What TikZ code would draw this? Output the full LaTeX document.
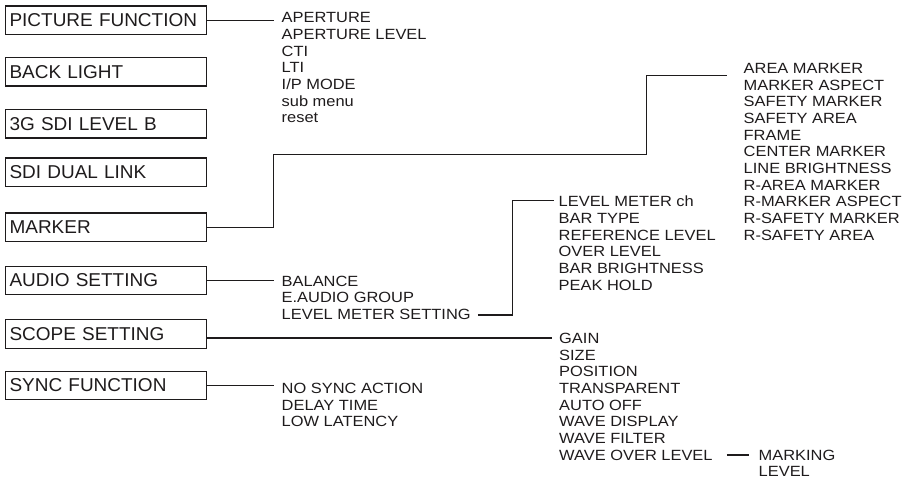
\documentclass[tikz,border=0pt]{standalone}
\usepackage{fontspec}
\setmainfont{Liberation Sans}
\newfontfamily\boxfont{Liberation Sans}[FakeStretch=1.02]
\newfontfamily\listfont{Liberation Sans}[FakeStretch=1.11]
\definecolor{ink}{RGB}{30,27,28}
\begin{document}
\begin{tikzpicture}[x=1pt,y=-1pt,
  menubox/.style={draw=ink, line width=1.1pt, anchor=north west, minimum width=201pt,
    minimum height=28.5pt, inner xsep=4pt, inner ysep=0pt, text width=193pt, align=left,
    text height=13.3pt, text depth=0pt, font=\boxfont\fontsize{18.6}{20}\selectfont, text=ink},
  itemlist/.style={anchor=base west, inner sep=0pt, align=left,
    font=\listfont\fontsize{14.8}{16.7}\selectfont, text=ink},
  link/.style={draw=ink, line width=1.1pt}]
\useasboundingbox (0,0) rectangle (902,481);

% main menu boxes
\node[menubox] (pf) at (5,5.5) {PICTURE FUNCTION};
\node[menubox] (bl) at (5,57) {BACK LIGHT};
\node[menubox] (sdib) at (5,109) {3G SDI LEVEL B};
\node[menubox] (dual) at (5,157.5) {SDI DUAL LINK};
\node[menubox] (mk) at (5,212.5) {MARKER};
\node[menubox] (au) at (5,265.5) {AUDIO SETTING};
\node[menubox] (sc) at (5,319) {SCOPE SETTING};
\node[menubox] (sy) at (5,370.5) {SYNC FUNCTION};

% sub menu lists (anchored at the baseline of their last line)
\node[itemlist] (pfl) at (281.5,122.9) {APERTURE\\APERTURE LEVEL\\CTI\\LTI\\I/P MODE\\sub menu\\reset};
\node[itemlist] (mkl) at (743.5,240.3) {AREA MARKER\\MARKER ASPECT\\SAFETY MARKER\\SAFETY AREA\\FRAME\\CENTER MARKER\\LINE BRIGHTNESS\\R-AREA MARKER\\R-MARKER ASPECT\\R-SAFETY MARKER\\R-SAFETY AREA};
\node[itemlist] (aul) at (281.5,302.7) {BALANCE\\E.AUDIO GROUP};
\node[itemlist] (lms) at (281.5,319.4) {LEVEL METER SETTING};
\node[itemlist] (lml) at (558.5,290.2) {LEVEL METER ch\\BAR TYPE\\REFERENCE LEVEL\\OVER LEVEL\\BAR BRIGHTNESS\\PEAK HOLD};
\node[itemlist] (scl) at (559,443.5) {GAIN\\SIZE\\POSITION\\TRANSPARENT\\AUTO OFF\\WAVE DISPLAY\\WAVE FILTER};
\node[itemlist] (wol) at (559,460.2) {WAVE OVER LEVEL};
\node[itemlist] (wml) at (758.5,476.7) {MARKING\\LEVEL};
\node[itemlist] (syl) at (281.5,426.7) {NO SYNC ACTION\\DELAY TIME\\LOW LATENCY};

% connector end points
\coordinate (pfe) at ([xshift=-7.5pt]pfl.base west);
\coordinate (mke) at ([xshift=-16.5pt,yshift=164.6pt]mkl.base west);
\coordinate (mkj1) at (273.5,154.7);
\coordinate (mkj2) at (646.7,75.7);
\coordinate (aue) at ([xshift=-7.5pt]aul.base west);
\coordinate (lmst) at ([xshift=7pt,yshift=4.4pt]lms.base east);
\coordinate (lme) at ([xshift=-5pt,yshift=89.5pt]lml.base west);
\coordinate (lmj) at (512.7,200.7);
\coordinate (sce) at ([xshift=-7.3pt,yshift=105.5pt]scl.base west);
\coordinate (sye) at ([xshift=-8pt]syl.base west);
\coordinate (wos) at ([xshift=14pt,yshift=5.2pt]wol.base east);
\coordinate (wme) at ([xshift=-10pt,yshift=21.7pt]wml.base west);

% connectors
\draw[link] (pf.east) -- (pf.east -| pfe);
\draw[link] (mk.east) -| (mkj1) -| (mkj2) -- (mke);
\draw[link] (au.east) -- (au.east -| aue);
\draw[link] (lmst) -| (lmj) -- (lme);
\draw[link] (sc.east |- sce) -- (sce);
\draw[link] (sy.east) -- (sy.east -| sye);
\draw[link] (wos) -- (wme);
\end{tikzpicture}
\end{document}
